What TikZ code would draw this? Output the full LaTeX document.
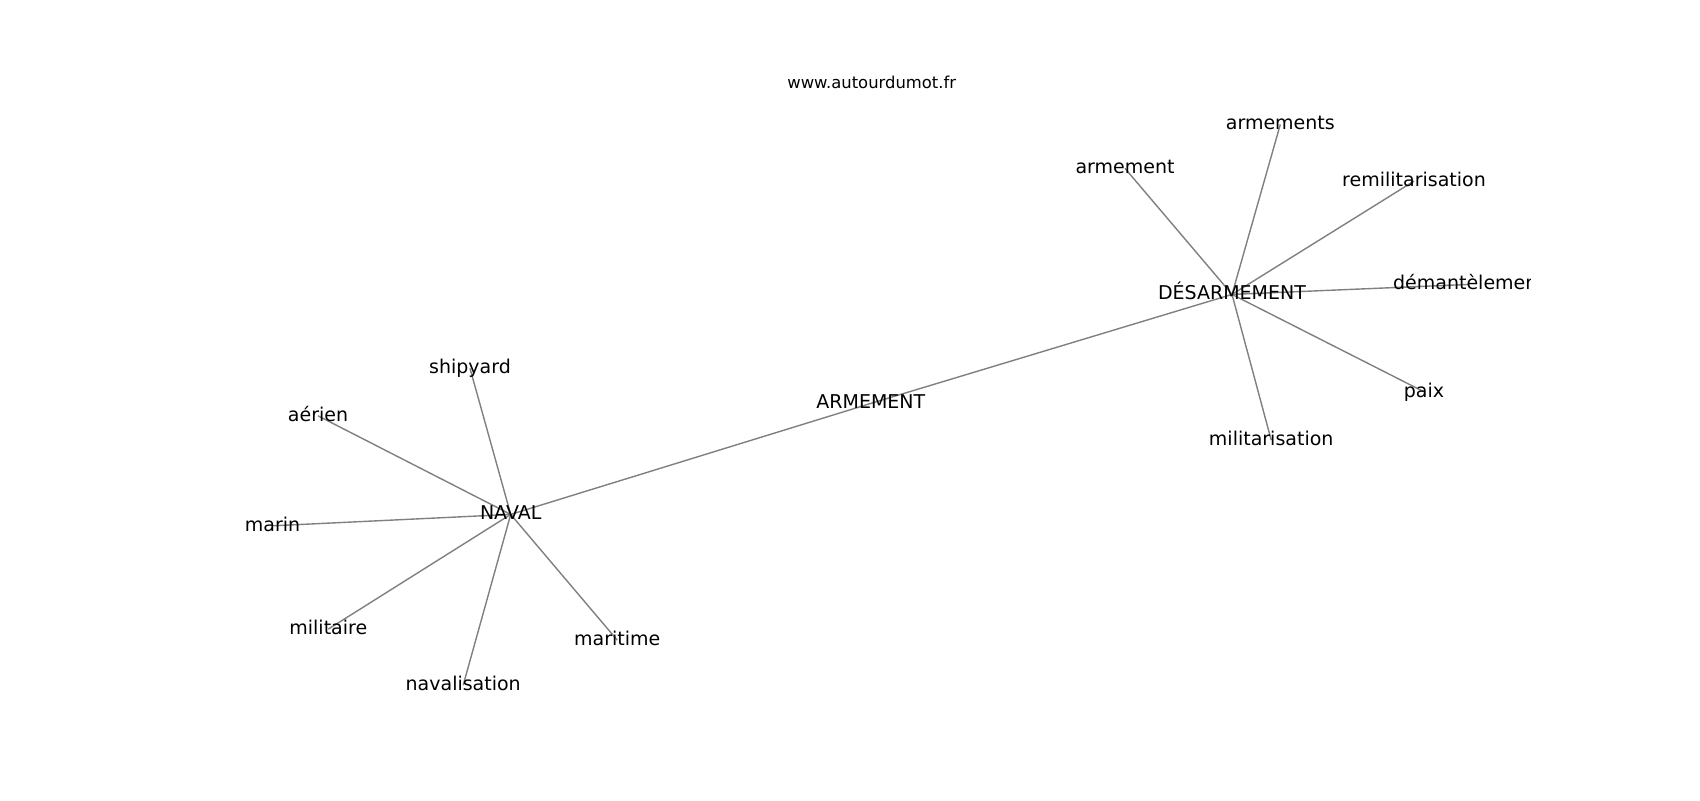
\documentclass[tikz,border=0pt]{standalone}
\usepackage{fontspec}
\setmainfont{DejaVu Sans}
\usetikzlibrary{backgrounds}

\begin{document}
\begin{tikzpicture}[
    x=0.5pt, y=-0.5pt,
    word/.style={inner sep=0pt, text height=0.76em, text depth=0.24em,
        font=\fontsize{9.5}{11}\selectfont},
    link/.style={draw=gray, line width=0.7pt}
]
\useasboundingbox (0,0) rectangle (1700,800);

\node[word, font=\fontsize{8.2}{10}\selectfont] (site) at (871.7,83) {www.autourdumot.fr};

\begin{scope}
\clip (212.5,96) rectangle (1530,712);
\node[word] (desarm) at (1232,294.4) {DÉSARMEMENT};
\node[word] (armement) at (1125,168.4) {armement};
\node[word] (armements) at (1280.3,124.4) {armements};
\node[word] (remil) at (1414,181.1) {remilitarisation};
\node[word] (demant) at (1469,284.4) {démantèlement};
\node[word] (paix) at (1424,391.8) {paix};
\node[word] (milit) at (1271.2,440.1) {militarisation};
\node[word] (arm) at (870.8,403.4) {ARMEMENT};
\node[word] (naval) at (510.7,514.4) {NAVAL};
\node[word] (shipyard) at (470,368.4) {shipyard};
\node[word] (aerien) at (318,415.8) {aérien};
\node[word] (marin) at (272.5,525.8) {marin};
\node[word] (militaire) at (328.3,629.1) {militaire};
\node[word] (navalis) at (463.2,685.1) {navalisation};
\node[word] (maritime) at (617.2,640.1) {maritime};
\end{scope}

\begin{scope}[on background layer]
\fill[white] (0,0) rectangle (1700,800);
\path[link]
    (desarm.center) edge (armement.center)
    (desarm.center) edge (armements.center)
    (desarm.center) edge (remil.center)
    (desarm.center) edge (demant.center)
    (desarm.center) edge (paix.center)
    (desarm.center) edge (milit.center)
    (desarm.center) edge (arm.center)
    (arm.center) edge (naval.center)
    (naval.center) edge (shipyard.center)
    (naval.center) edge (aerien.center)
    (naval.center) edge (marin.center)
    (naval.center) edge (militaire.center)
    (naval.center) edge (navalis.center)
    (naval.center) edge (maritime.center)
    ;
\end{scope}

\end{tikzpicture}
\end{document}
